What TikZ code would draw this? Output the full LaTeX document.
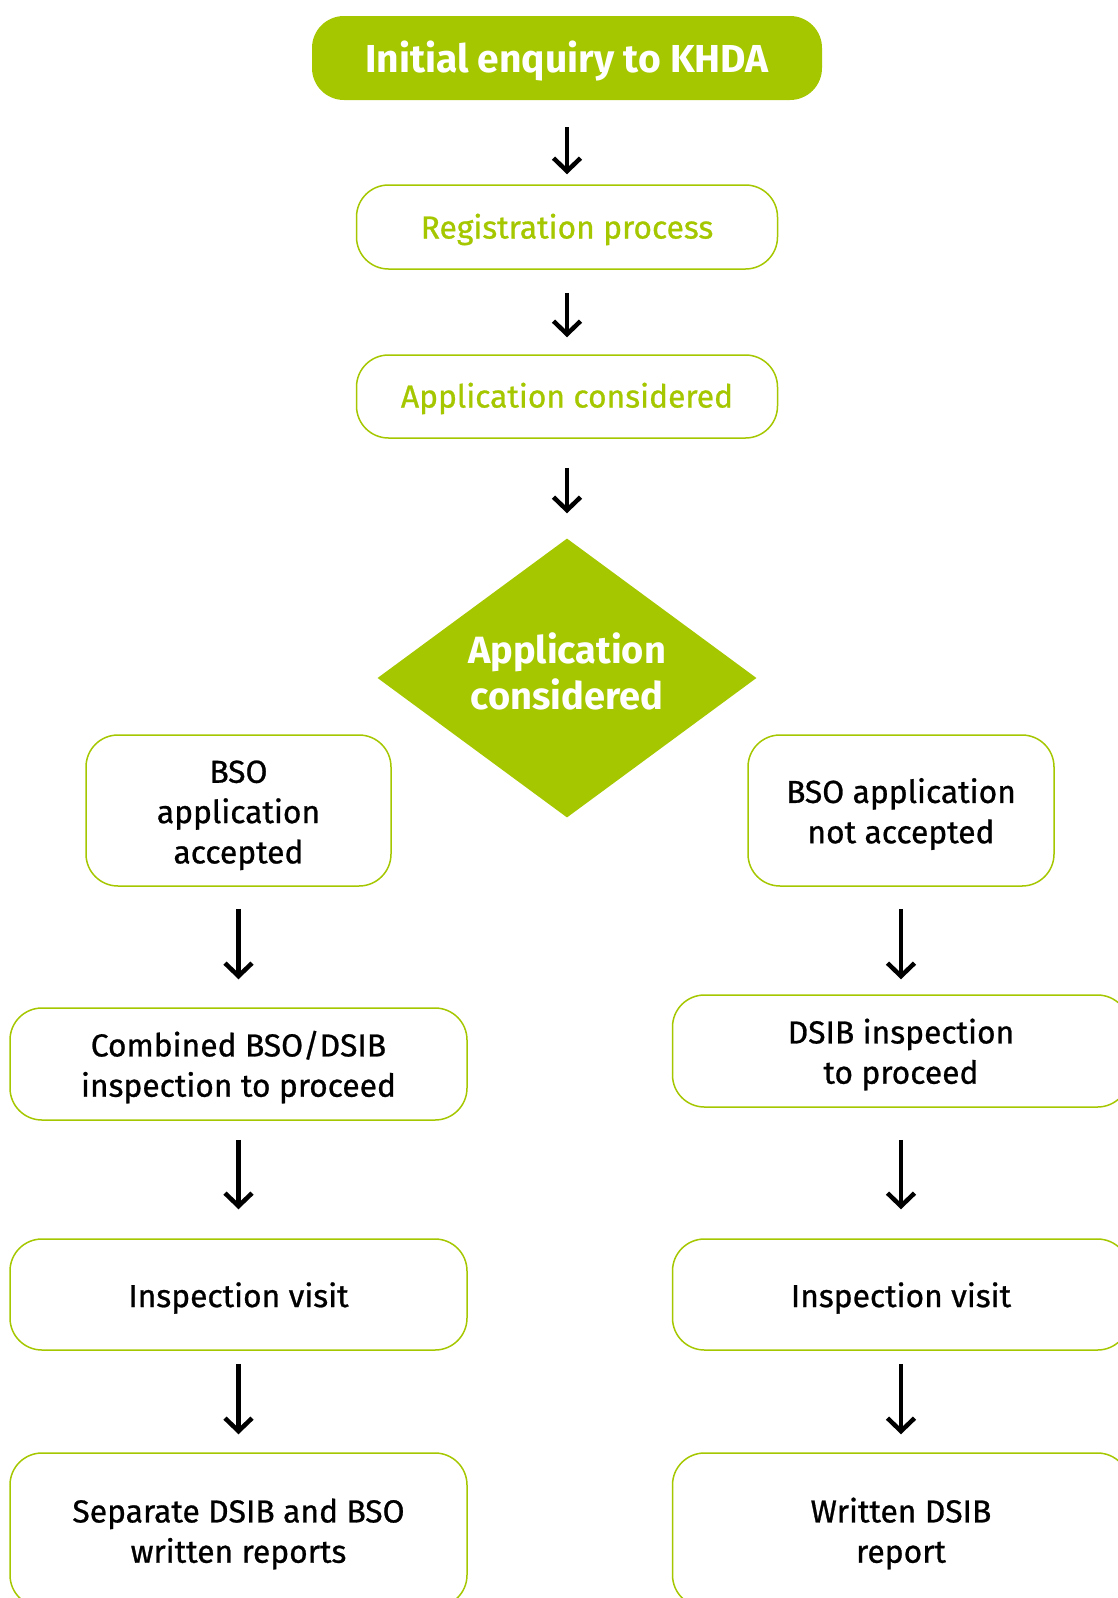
\documentclass[tikz,border=0pt]{standalone}
\usepackage{fontspec}
\setmainfont{Fira Sans}
\newfontfamily\medfont{Fira Sans}[FakeBold=0.8]
\usetikzlibrary{arrows.meta,shapes.geometric}
\definecolor{kgreen}{RGB}{165,199,0}
\newcommand{\shifted}[2]{\raisebox{#1}[\height][\depth]{\begin{tabular}{@{}c@{}}#2\end{tabular}}}
\begin{document}
\begin{tikzpicture}[x=1pt,y=-1pt,
  box/.style={draw=kgreen, line width=1.5pt, rounded corners=32pt, fill=white, inner sep=0pt},
  gbox/.style={box, text=kgreen, font=\medfont\fontsize{31.8}{40}\selectfont},
  bbox/.style={box, text=black, font=\medfont\fontsize{31.8}{40.3}\selectfont},
  arr/.style={line width=4.5pt, -{Straight Barb[length=13pt,width=27pt]}}]
\useasboundingbox (0,0) rectangle (1118,1598);
\clip (0,0) rectangle (1118,1598);
% top
\node[fill=kgreen, rounded corners=32pt, inner sep=0pt, minimum width=510pt, minimum height=84pt,
      text=white, font=\bfseries\fontsize{39}{44}\selectfont] (init) at (567,58) {\shifted{-5pt}{Initial enquiry to KHDA}};
\node[gbox, minimum width=421pt, minimum height=84pt] (reg) at (567,227) {\shifted{-3.5pt}{Registration process}};
\node[gbox, minimum width=421pt, minimum height=83pt] (appc) at (567,396.5) {\shifted{-3pt}{Application considered}};
\node[diamond, fill=kgreen, aspect=1.36, inner sep=0pt, minimum width=379pt, minimum height=279pt,
      text=white, font=\bfseries\fontsize{38}{46}\selectfont] (dia) at (567,678) {\shifted{1pt}{Application\\considered}};
% left column
\node[bbox, minimum width=305pt, minimum height=151pt] (acc) at (238.5,810.5) {\shifted{-4.5pt}{BSO\\application\\accepted}};
\node[bbox, minimum width=457pt, minimum height=112pt] (comb) at (238.5,1064) {\shifted{-4.5pt}{Combined BSO/DSIB\\inspection to proceed}};
\node[bbox, minimum width=457pt, minimum height=111pt] (visL) at (238.5,1294.5) {\shifted{-4.5pt}{Inspection visit}};
\node[bbox, minimum width=457pt, minimum height=154pt] (repL) at (238.5,1530) {\shifted{-4.5pt}{Separate DSIB and BSO\\written reports}};
% right column
\node[bbox, minimum width=306pt, minimum height=151pt] (nacc) at (901,810.5) {\shifted{-4.5pt}{BSO application\\not accepted}};
\node[bbox, minimum width=457pt, minimum height=112pt] (dsib) at (901,1051) {\shifted{-4.5pt}{DSIB inspection\\to proceed}};
\node[bbox, minimum width=457pt, minimum height=111pt] (visR) at (901,1294.5) {\shifted{-4.5pt}{Inspection visit}};
\node[bbox, minimum width=457pt, minimum height=154pt] (repR) at (901,1530) {\shifted{-4.5pt}{Written DSIB\\report}};
% arrows
\draw[arr, shorten <=27pt, shorten >=10pt] (init) -- (reg);
\draw[arr, shorten <=23pt, shorten >=17pt] (reg) -- (appc);
\draw[arr, shorten <=29pt, shorten >=25pt] (appc) -- (dia);
\draw[arr, shorten <=22pt, shorten >=28pt] (acc) -- (comb);
\draw[arr, shorten <=22pt, shorten >=15pt] (nacc) -- (dsib);
\draw[arr, shorten <=19pt, shorten >=29pt] (comb) -- (visL);
\draw[arr, shorten <=32pt, shorten >=29pt] (dsib) -- (visR);
\draw[arr, shorten <=13pt, shorten >=18pt] (visL) -- (repL);
\draw[arr, shorten <=13pt, shorten >=18pt] (visR) -- (repR);
\end{tikzpicture}
\end{document}
